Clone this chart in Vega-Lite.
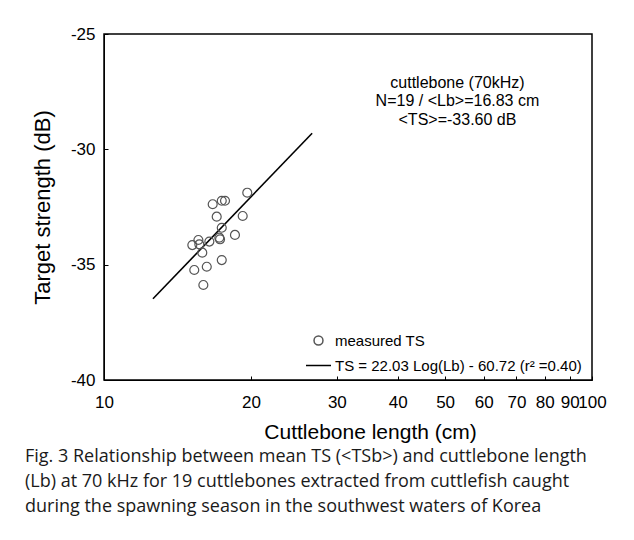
{
  "$schema": "https://vega.github.io/schema/vega-lite/v6.json",
  "width": 488,
  "height": 346,
  "autosize": {"type": "none"},
  "padding": {"left": 104, "top": 34, "right": 42, "bottom": 160},
  "background": "white",
  "config": {
    "view": {"stroke": "black", "strokeWidth": 1.5},
    "font": "Liberation Sans"
  },
  "datasets": {
    "points": [
      {"L": 19.66, "TS": -31.88, "s": "measured TS"},
      {"L": 16.70, "TS": -32.38, "s": "measured TS"},
      {"L": 17.43, "TS": -32.23, "s": "measured TS"},
      {"L": 17.70, "TS": -32.23, "s": "measured TS"},
      {"L": 17.02, "TS": -32.92, "s": "measured TS"},
      {"L": 19.24, "TS": -32.89, "s": "measured TS"},
      {"L": 17.43, "TS": -33.40, "s": "measured TS"},
      {"L": 18.55, "TS": -33.71, "s": "measured TS"},
      {"L": 17.23, "TS": -33.83, "s": "measured TS"},
      {"L": 17.29, "TS": -33.90, "s": "measured TS"},
      {"L": 16.44, "TS": -34.00, "s": "measured TS"},
      {"L": 15.61, "TS": -33.93, "s": "measured TS"},
      {"L": 15.17, "TS": -34.15, "s": "measured TS"},
      {"L": 15.68, "TS": -34.12, "s": "measured TS"},
      {"L": 15.90, "TS": -34.48, "s": "measured TS"},
      {"L": 17.43, "TS": -34.80, "s": "measured TS"},
      {"L": 16.24, "TS": -35.09, "s": "measured TS"},
      {"L": 15.31, "TS": -35.23, "s": "measured TS"},
      {"L": 15.98, "TS": -35.88, "s": "measured TS"}
    ],
    "fit": [
      {"L": 12.6, "TS": -36.48},
      {"L": 26.7, "TS": -29.30}
    ]
  },
  "title": {
    "text": [
      "Fig. 3 Relationship between mean TS (<TSb>) and cuttlebone length",
      "(Lb) at 70 kHz for 19 cuttlebones extracted from cuttlefish caught",
      "during the spawning season in the southwest waters of Korea"
    ],
    "orient": "bottom",
    "anchor": "start",
    "frame": "group",
    "dx": -79,
    "offset": 6,
    "font": "Open Sans",
    "fontSize": 18,
    "fontWeight": "normal",
    "lineHeight": 25,
    "color": "#1a1a1a"
  },
  "layer": [
    {
      "data": {"name": "fit"},
      "mark": {"type": "line", "color": "black", "strokeWidth": 1.6},
      "encoding": {
        "x": {
          "field": "L", "type": "quantitative",
          "scale": {"type": "log", "domain": [10, 100], "nice": false},
          "axis": {
            "values": [10, 20, 30, 40, 50, 60, 70, 80, 90, 100],
            "labelExpr": "'' + datum.value",
            "title": "Cuttlebone length (cm)",
            "titleFontSize": 21, "titleFontWeight": "normal", "titleColor": "black",
            "titleX": 266, "titleY": 52, "titleBaseline": "middle", "titleAlign": "center",
            "labelFontSize": 17, "labelColor": "black", "labelPadding": 18,
            "labelOverlap": false, "labelFlush": false,
            "tickSize": -4, "tickColor": "black", "domainColor": "black",
            "grid": false
          }
        },
        "y": {
          "field": "TS", "type": "quantitative",
          "scale": {"domain": [-40, -25], "nice": false},
          "axis": {
            "values": [-40, -35, -30, -25],
            "labelExpr": "'' + datum.value",
            "title": "Target strength (dB)",
            "titleFontSize": 22, "titleFontWeight": "normal", "titleColor": "black",
            "titlePadding": 16,
            "labelFontSize": 17, "labelColor": "black", "labelPadding": 13,
            "tickSize": -4, "tickColor": "black", "domainColor": "black",
            "grid": false
          }
        }
      }
    },
    {
      "data": {"name": "points"},
      "mark": {"type": "point", "filled": false, "strokeWidth": 1.2, "opacity": 1},
      "encoding": {
        "x": {"field": "L", "type": "quantitative"},
        "y": {"field": "TS", "type": "quantitative"},
        "shape": {
          "field": "s", "type": "nominal",
          "scale": {"domain": ["measured TS", "TS = 22.03 Log(Lb) - 60.72 (r² =0.40)"], "range": ["circle", "stroke"]},
          "legend": {
            "title": null, "orient": "none", "legendX": 201, "legendY": 299,
            "labelFontSize": 15, "labelColor": "black", "labelFont": "Liberation Sans",
            "labelLimit": 400, "rowPadding": 3, "labelOffset": 3, "symbolStrokeWidth": 1.5
          }
        },
        "color": {
          "field": "s", "type": "nominal",
          "scale": {"domain": ["measured TS", "TS = 22.03 Log(Lb) - 60.72 (r² =0.40)"], "range": ["#555555", "black"]}
        },
        "size": {
          "field": "s", "type": "nominal",
          "scale": {"domain": ["measured TS", "TS = 22.03 Log(Lb) - 60.72 (r² =0.40)"], "range": [80, 625]}
        }
      }
    },
    {
      "data": {"values": [{}]},
      "mark": {"type": "text", "align": "center", "baseline": "middle", "fontSize": 16, "lineHeight": 18.5, "color": "black", "font": "Liberation Sans"},
      "encoding": {
        "x": {"datum": 53},
        "y": {"datum": -27.12},
        "text": {"value": ["cuttlebone (70kHz)", "N=19 / <Lb>=16.83 cm", "<TS>=-33.60 dB"]}
      }
    }
  ]
}
